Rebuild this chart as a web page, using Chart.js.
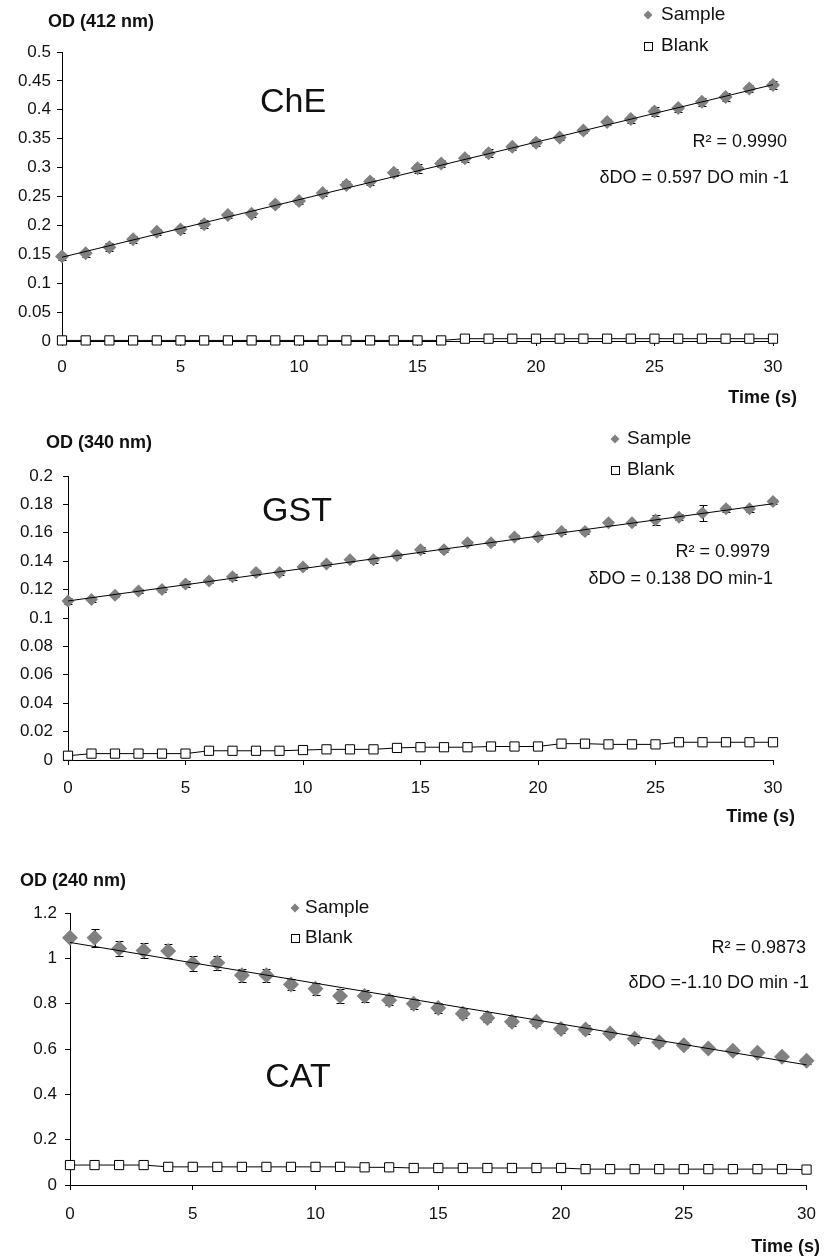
<!DOCTYPE html>
<html>
<head>
<meta charset="utf-8">
<script src="https://cdn.jsdelivr.net/npm/chart.js@4.4.1/dist/chart.umd.min.js"></script>
<style>
    body { margin: 0; background: #fff; }
    .box { position: absolute; left: 0; width: 830px; }
</style>
</head>
<body>
<div class="box" style="top:0px;height:420px"><canvas id="che"></canvas></div>
<div class="box" style="top:420px;height:420px"><canvas id="gst"></canvas></div>
<div class="box" style="top:840px;height:416px"><canvas id="cat"></canvas></div>
<script>
// time points (s)
var times = [0, 1, 2, 3, 4, 5, 6, 7, 8, 9, 10, 11, 12, 13, 14, 15, 16, 17, 18, 19, 20, 21, 22, 23, 24, 25, 26, 27, 28, 29, 30];
var xTicks = [0, 5, 10, 15, 20, 25, 30];
var trendX = [0, 30];

// ChE (412 nm)
var cheSample = [0.146, 0.152, 0.162, 0.176, 0.189, 0.193, 0.202, 0.218, 0.220, 0.236, 0.242, 0.256, 0.270, 0.276, 0.291, 0.299, 0.307, 0.316, 0.325, 0.336, 0.343, 0.352, 0.364, 0.379, 0.384, 0.397, 0.403, 0.414, 0.422, 0.437, 0.443];
var cheError = [0.005, 0.006, 0.007, 0.006, 0.005, 0.006, 0.007, 0.005, 0.006, 0.005, 0.005, 0.005, 0.006, 0.006, 0.006, 0.008, 0.006, 0.006, 0.007, 0.005, 0.006, 0.005, 0.005, 0.005, 0.006, 0.008, 0.006, 0.007, 0.007, 0.006, 0.007];
var cheBlank = [0.001, 0.001, 0.001, 0.001, 0.001, 0.001, 0.001, 0.001, 0.001, 0.001, 0.001, 0.001, 0.001, 0.001, 0.001, 0.001, 0.001, 0.004, 0.004, 0.004, 0.004, 0.004, 0.004, 0.004, 0.004, 0.004, 0.004, 0.004, 0.004, 0.004, 0.004];
var cheTrend = [0.145, 0.4435];
var cheYTicks = [0, 0.05, 0.1, 0.15, 0.2, 0.25, 0.3, 0.35, 0.4, 0.45, 0.5];

// GST (340 nm)
var gstSample = [0.112, 0.113, 0.116, 0.119, 0.120, 0.124, 0.126, 0.129, 0.132, 0.132, 0.136, 0.138, 0.141, 0.141, 0.144, 0.148, 0.148, 0.153, 0.153, 0.157, 0.157, 0.161, 0.161, 0.167, 0.167, 0.169, 0.171, 0.174, 0.177, 0.177, 0.182];
var gstError = [0.002, 0.0015, 0.0015, 0.0015, 0.002, 0.002, 0.0015, 0.002, 0.0015, 0.002, 0.0015, 0.0015, 0.0015, 0.002, 0.0015, 0.002, 0.0015, 0.0015, 0.0015, 0.0015, 0.0015, 0.002, 0.002, 0.0015, 0.0015, 0.0035, 0.002, 0.0055, 0.002, 0.002, 0.002];
var gstBlank = [0.003, 0.0045, 0.0045, 0.0045, 0.0045, 0.0045, 0.0065, 0.0065, 0.0065, 0.0065, 0.007, 0.0075, 0.0075, 0.0075, 0.0085, 0.009, 0.009, 0.009, 0.0095, 0.0095, 0.0095, 0.0115, 0.0115, 0.011, 0.011, 0.011, 0.0125, 0.0125, 0.0125, 0.0125, 0.0125];
var gstTrend = [0.112, 0.1805];
var gstYTicks = [0, 0.02, 0.04, 0.06, 0.08, 0.1, 0.12, 0.14, 0.16, 0.18, 0.2];

// CAT (240 nm)
var catSample = [1.091, 1.091, 1.043, 1.035, 1.032, 0.977, 0.981, 0.925, 0.925, 0.885, 0.866, 0.834, 0.834, 0.815, 0.800, 0.781, 0.756, 0.737, 0.720, 0.720, 0.688, 0.686, 0.668, 0.645, 0.630, 0.617, 0.602, 0.592, 0.583, 0.566, 0.548];
var catError = [0, 0.039, 0.033, 0.033, 0.032, 0.033, 0.031, 0.029, 0.029, 0.026, 0.027, 0.030, 0.026, 0.022, 0.022, 0.020, 0.020, 0.020, 0.020, 0.018, 0.018, 0.018, 0.017, 0.017, 0.015, 0.012, 0.012, 0.012, 0.012, 0.012, 0.012];
var catBlank = [0.088, 0.088, 0.088, 0.088, 0.080, 0.080, 0.080, 0.080, 0.080, 0.080, 0.080, 0.080, 0.078, 0.078, 0.075, 0.075, 0.075, 0.075, 0.075, 0.075, 0.075, 0.070, 0.070, 0.070, 0.070, 0.070, 0.070, 0.070, 0.070, 0.070, 0.068];
var catTrend = [1.07, 0.53];
var catYTicks = [0, 0.2, 0.4, 0.6, 0.8, 1, 1.2];

var FONT = "'Liberation Sans', Arial, sans-serif";

function pts(xs, ys) {
    return xs.map(function (x, i) { return { x: x, y: ys[i] }; });
}

// error bars behind the diamonds
var errorBars = {
    id: 'errorBars',
    beforeDatasetsDraw: function (chart, args, opts) {
        var ctx = chart.ctx, xs = chart.scales.x, ys = chart.scales.y;
        ctx.save();
        ctx.strokeStyle = '#000';
        ctx.lineWidth = 1;
        opts.values.forEach(function (v, i) {
            var e = opts.errors[i];
            if (!e) return;
            var px = Math.round(xs.getPixelForValue(times[i])) + 0.5;
            var y1 = Math.round(ys.getPixelForValue(v - e)) + 0.5;
            var y2 = Math.round(ys.getPixelForValue(v + e)) + 0.5;
            ctx.beginPath();
            ctx.moveTo(px, y1); ctx.lineTo(px, y2);
            ctx.moveTo(px - 4, y1); ctx.lineTo(px + 4, y1);
            ctx.moveTo(px - 4, y2); ctx.lineTo(px + 4, y2);
            ctx.stroke();
        });
        ctx.restore();
    }
};

// free text + legend drawn inside the canvas
var notes = {
    id: 'notes',
    afterDraw: function (chart, args, opts) {
        var ctx = chart.ctx;
        ctx.save();
        ctx.textBaseline = 'middle';
        opts.items.forEach(function (it) {
            var y = it.y - opts.top;
            if (it.marker === 'diamond') {
                ctx.fillStyle = '#808080';
                ctx.beginPath();
                ctx.moveTo(it.x, y - 4.5); ctx.lineTo(it.x + 4.5, y);
                ctx.lineTo(it.x, y + 4.5); ctx.lineTo(it.x - 4.5, y);
                ctx.closePath(); ctx.fill();
                return;
            }
            if (it.marker === 'square') {
                ctx.fillStyle = '#fff';
                ctx.strokeStyle = '#000';
                ctx.lineWidth = 1;
                ctx.fillRect(it.x - 4, y - 4, 8, 8);
                ctx.strokeRect(it.x - 3.5, y - 3.5, 8, 8);
                return;
            }
            ctx.fillStyle = '#111';
            ctx.font = (it.bold ? 'bold ' : '') + (it.size || 18) + 'px ' + FONT;
            ctx.textAlign = it.align || 'left';
            ctx.fillText(it.text, it.x, y);
        });
        ctx.restore();
    }
};

function makeChart(id, c) {
    var tickFmt = function (v) { return String(Math.round(v * 1000) / 1000); };
    return new Chart(document.getElementById(id), {
        type: 'scatter',
        data: {
            datasets: [
                {
                    label: 'trend',
                    data: pts(trendX, c.trend),
                    showLine: true,
                    borderColor: '#000',
                    borderWidth: 1,
                    pointRadius: 0,
                    clip: false,
                    order: 0
                },
                {
                    label: 'Sample',
                    data: pts(times, c.sample),
                    pointStyle: 'rectRot',
                    pointRadius: c.diamond,
                    backgroundColor: '#808080',
                    borderColor: '#808080',
                    borderWidth: 0,
                    clip: false,
                    order: 1
                },
                {
                    label: 'Blank',
                    data: pts(times, c.blank),
                    showLine: true,
                    borderColor: '#000',
                    borderWidth: 1,
                    pointStyle: 'rect',
                    pointRadius: 6.5,
                    pointBackgroundColor: '#fff',
                    pointBorderColor: '#000',
                    pointBorderWidth: 1,
                    clip: false,
                    order: 2
                }
            ]
        },
        options: {
            responsive: true,
            maintainAspectRatio: false,
            animation: false,
            layout: { padding: { left: 0, right: c.padRight, top: c.padTop, bottom: c.padBottom } },
            scales: {
                x: {
                    type: 'linear',
                    min: 0,
                    max: 30,
                    afterBuildTicks: function (s) { s.ticks = xTicks.map(function (v) { return { value: v }; }); },
                    afterFit: function (s) { s.height = 40; },
                    border: { color: '#000', width: 1 },
                    grid: { drawOnChartArea: false, color: '#000', tickLength: 5 },
                    ticks: { color: '#111', font: { size: 17, family: FONT }, padding: c.xPad, maxRotation: 0 }
                },
                y: {
                    min: 0,
                    max: c.yTicks[c.yTicks.length - 1],
                    afterBuildTicks: function (s) { s.ticks = c.yTicks.map(function (v) { return { value: v }; }); },
                    afterFit: function (s) { s.width = c.left; },
                    border: { color: '#000', width: 1 },
                    grid: { drawOnChartArea: false, color: '#000', tickLength: 5 },
                    ticks: { color: '#111', font: { size: 17, family: FONT }, padding: c.yPad, callback: tickFmt }
                }
            },
            plugins: {
                legend: { display: false },
                tooltip: { enabled: false },
                errorBars: { values: c.sample, errors: c.error },
                notes: { top: c.top, items: c.notes }
            }
        },
        plugins: [errorBars, notes]
    });
}

makeChart('che', {
    top: 0, left: 62, padRight: 57, padTop: 52, padBottom: 39, xPad: 11, yPad: 6, diamond: 7,
    sample: cheSample, error: cheError, blank: cheBlank, trend: cheTrend, yTicks: cheYTicks,
    notes: [
        { text: 'OD (412 nm)', x: 48, y: 22, bold: true },
        { marker: 'diamond', x: 648, y: 15 },
        { text: 'Sample', x: 661, y: 15, size: 19 },
        { marker: 'square', x: 648, y: 46 },
        { text: 'Blank', x: 661, y: 46, size: 19 },
        { text: 'ChE', x: 293, y: 103, size: 34, align: 'center' },
        { text: 'R² = 0.9990', x: 787, y: 142, align: 'right' },
        { text: 'δDO = 0.597 DO min -1', x: 789, y: 178, align: 'right' },
        { text: 'Time (s)', x: 797, y: 398, bold: true, align: 'right' }
    ]
});

makeChart('gst', {
    top: 420, left: 68, padRight: 57, padTop: 56, padBottom: 40, xPad: 13, yPad: 10, diamond: 6.5,
    sample: gstSample, error: gstError, blank: gstBlank, trend: gstTrend, yTicks: gstYTicks,
    notes: [
        { text: 'OD (340 nm)', x: 46, y: 443, bold: true },
        { marker: 'diamond', x: 615, y: 439 },
        { text: 'Sample', x: 627, y: 439, size: 19 },
        { marker: 'square', x: 615, y: 470 },
        { text: 'Blank', x: 627, y: 470, size: 19 },
        { text: 'GST', x: 297, y: 512, size: 34, align: 'center' },
        { text: 'R² = 0.9979', x: 770, y: 552, align: 'right' },
        { text: 'δDO = 0.138 DO min-1', x: 773, y: 579, align: 'right' },
        { text: 'Time (s)', x: 795, y: 817, bold: true, align: 'right' }
    ]
});

makeChart('cat', {
    top: 840, left: 70, padRight: 13, padTop: 73, padBottom: 31, xPad: 14, yPad: 8, diamond: 8,
    sample: catSample, error: catError, blank: catBlank, trend: catTrend, yTicks: catYTicks,
    notes: [
        { text: 'OD (240 nm)', x: 20, y: 881, bold: true },
        { marker: 'diamond', x: 295, y: 908 },
        { text: 'Sample', x: 305, y: 908, size: 19 },
        { marker: 'square', x: 295, y: 938 },
        { text: 'Blank', x: 305, y: 938, size: 19 },
        { text: 'CAT', x: 298, y: 1078, size: 34, align: 'center' },
        { text: 'R² = 0.9873', x: 806, y: 948, align: 'right' },
        { text: 'δDO =-1.10 DO min -1', x: 809, y: 983, align: 'right' },
        { text: 'Time (s)', x: 820, y: 1247, bold: true, align: 'right' }
    ]
});
</script>
</body>
</html>
